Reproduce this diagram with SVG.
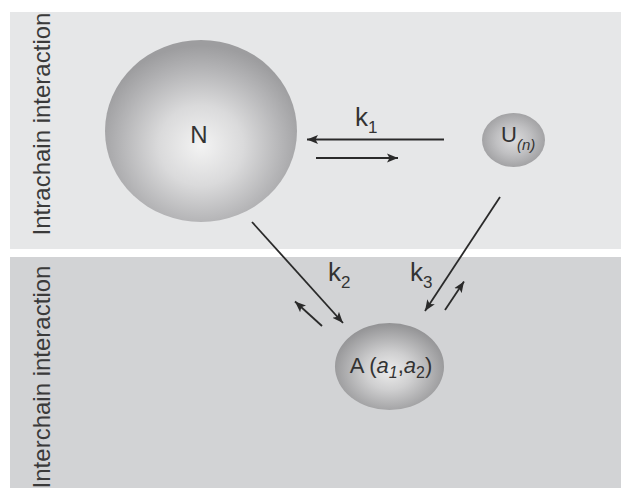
<svg xmlns="http://www.w3.org/2000/svg" width="621" height="488" viewBox="0 0 621 488">
<style>
  text { font-family: "Liberation Sans", Arial, sans-serif; fill: #333; }
  .side { font-size: 24px; fill: #3a3a3a; }
  .lbl { font-size: 24px; }
  .k { font-size: 26px; }
  .sub { font-size: 17px; }
  .conn { stroke: #2a2a2a; stroke-width: 1.8; fill: none; }
  .sphere { stroke: none; }
</style>
<defs>
  <marker id="ah" markerUnits="userSpaceOnUse" markerWidth="12" markerHeight="10" viewBox="0 0 12 10" refX="11" refY="5" orient="auto">
    <path d="M0,0.5 L11,5 L0,9.5 L2.5,5 Z" fill="#2a2a2a"/>
  </marker>
  <radialGradient id="gN" cx="50%" cy="58%" r="55%">
    <stop offset="0" stop-color="#f3f3f3"/>
    <stop offset="0.4" stop-color="#dadadb"/>
    <stop offset="0.78" stop-color="#b3b3b5"/>
    <stop offset="1" stop-color="#9d9d9f"/>
  </radialGradient>
  <radialGradient id="gU" cx="50%" cy="50%" r="55%">
    <stop offset="0" stop-color="#dcdcdd"/>
    <stop offset="0.5" stop-color="#c0c0c2"/>
    <stop offset="1" stop-color="#9c9c9e"/>
  </radialGradient>
  <radialGradient id="gA" cx="50%" cy="55%" r="55%">
    <stop offset="0" stop-color="#ececec"/>
    <stop offset="0.4" stop-color="#cfcfd0"/>
    <stop offset="1" stop-color="#929294"/>
  </radialGradient>
</defs>
<rect width="621" height="488" fill="#ffffff"/>
<rect id="intra-panel" x="10" y="12" width="611" height="237" fill="#e6e7e8"/>
<rect id="inter-panel" x="10" y="257" width="611" height="231" fill="#d2d3d5"/>
<text class="side" transform="translate(50,124) rotate(-90)" text-anchor="middle">Intrachain interaction</text>
<text class="side" transform="translate(50,377) rotate(-90)" text-anchor="middle">Interchain interaction</text>

<g id="connectors">
  <line class="conn" x1="444" y1="139.5" x2="307" y2="139.5" marker-end="url(#ah)"/>
  <line class="conn" x1="316" y1="158" x2="398" y2="158" marker-end="url(#ah)"/>
  <line class="conn" x1="252" y1="222" x2="343" y2="323" marker-end="url(#ah)"/>
  <line class="conn" x1="322" y1="326" x2="295" y2="301.5" marker-end="url(#ah)"/>
  <line class="conn" x1="500" y1="197" x2="425" y2="311" marker-end="url(#ah)"/>
  <line class="conn" x1="445" y1="310" x2="464" y2="281.5" marker-end="url(#ah)"/>
  <text class="k" x="355" y="126">k<tspan class="sub" dy="7">1</tspan></text>
  <text class="k" x="328" y="281">k<tspan class="sub" dy="7">2</tspan></text>
  <text class="k" x="410" y="281">k<tspan class="sub" dy="7">3</tspan></text>
</g>

<g id="node-N">
  <ellipse class="sphere" cx="201" cy="131" rx="96" ry="91" fill="url(#gN)"/>
  <text class="lbl" x="199" y="143" text-anchor="middle">N</text>
</g>
<g id="node-U">
  <ellipse class="sphere" cx="513.5" cy="140" rx="31.5" ry="27" fill="url(#gU)"/>
  <text x="501" y="142" font-size="22">U<tspan font-size="15" font-style="italic" dy="8">(n)</tspan></text>
</g>
<g id="node-A">
  <ellipse class="sphere" cx="389.5" cy="366.5" rx="54.5" ry="43.5" fill="url(#gA)"/>
  <text x="391" y="373" font-size="22" text-anchor="middle">A (<tspan font-style="italic">a</tspan><tspan font-size="16" font-style="italic" dy="5">1</tspan><tspan dy="-5">,</tspan><tspan font-style="italic">a</tspan><tspan font-size="16" dy="5">2</tspan><tspan dy="-5">)</tspan></text>
</g>
</svg>
